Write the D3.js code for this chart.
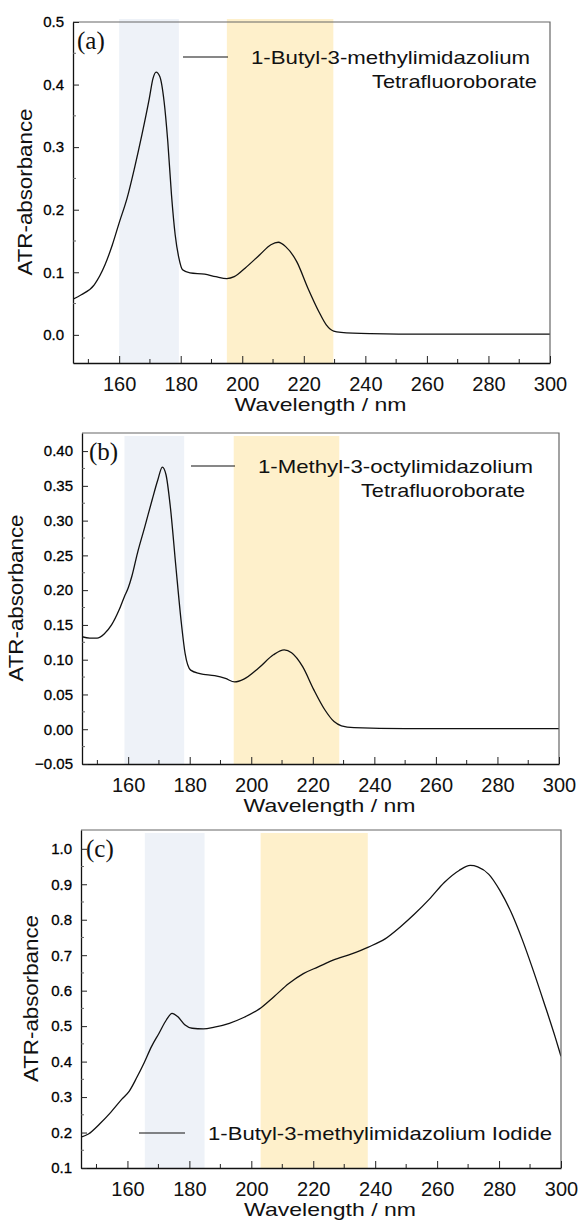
<!DOCTYPE html>
<html>
<head>
<meta charset="utf-8">
<script src="https://cdn.jsdelivr.net/npm/d3@7"></script>
<style>
  body { margin: 0; background: #fff; }
  svg { display: block; }
</style>
</head>
<body>
<svg id="chart" width="581" height="1220"></svg>
<script>
// values
const wlA  = [145, 147.7, 151.9, 155.4, 157.8, 160, 162.6, 165, 167.4, 169.8, 171, 172, 173.2, 174.6, 175.8, 177, 178.2, 179.4, 180.6, 183, 187.8, 191.4, 195, 197.4, 201, 205.7, 209.3, 211.7, 214.1, 217.7, 221.3, 224.9, 227.3, 229.7, 232.1, 241.7, 260, 280, 300];
const absA = [0.057, 0.064, 0.080, 0.112, 0.144, 0.179, 0.219, 0.267, 0.320, 0.378, 0.410, 0.420, 0.413, 0.373, 0.309, 0.224, 0.160, 0.123, 0.104, 0.099, 0.097, 0.093, 0.090, 0.093, 0.107, 0.128, 0.144, 0.148, 0.141, 0.117, 0.075, 0.037, 0.016, 0.006, 0.004, 0.002, 0.001, 0.001, 0.001];

const wlB  = [145, 147.5, 149.9, 152.2, 154.6, 157, 158.8, 160, 161.2, 163, 165.4, 167.8, 169.6, 171.1, 172.3, 173.7, 175.5, 177.3, 178.5, 180.3, 183.3, 188.1, 191.6, 194.6, 197.6, 202.4, 207.2, 210.7, 213.1, 216.7, 220.3, 223.9, 226.9, 229.3, 233.4, 250, 300];
const absB = [0.133, 0.131, 0.131, 0.137, 0.150, 0.171, 0.191, 0.203, 0.220, 0.253, 0.291, 0.330, 0.358, 0.377, 0.366, 0.320, 0.234, 0.152, 0.109, 0.085, 0.080, 0.077, 0.073, 0.068, 0.072, 0.088, 0.107, 0.114, 0.110, 0.090, 0.057, 0.028, 0.011, 0.005, 0.0024, 0.001, 0.001];

const wlC  = [145, 147.4, 151, 154.6, 158.2, 160.6, 163, 165.4, 167.8, 170.2, 172.6, 174.4, 176.2, 178.5, 180.9, 184.5, 188.1, 192.9, 197.7, 202.5, 207.3, 212.1, 216.8, 221.6, 226.4, 232.4, 237.8, 243.2, 248, 252.7, 257.5, 262.3, 267.1, 270.7, 273.1, 276.7, 280.3, 283.9, 287.4, 291, 294.6, 298.2, 300];
const absC = [0.187, 0.196, 0.224, 0.257, 0.294, 0.317, 0.355, 0.397, 0.443, 0.480, 0.518, 0.536, 0.527, 0.504, 0.494, 0.492, 0.497, 0.508, 0.525, 0.548, 0.583, 0.620, 0.648, 0.667, 0.686, 0.704, 0.723, 0.746, 0.779, 0.816, 0.858, 0.905, 0.939, 0.953, 0.949, 0.928, 0.882, 0.821, 0.746, 0.658, 0.564, 0.467, 0.415];

// axis ticks
const xTicks = [160, 180, 200, 220, 240, 260, 280, 300];
const xMinor = [150, 170, 190, 210, 230, 250, 270, 290];
const yTicksA = [0, 0.1, 0.2, 0.3, 0.4, 0.5];
const yMinorA = [0.05, 0.15, 0.25, 0.35, 0.45];
const yTicksB = [-0.05, 0, 0.05, 0.10, 0.15, 0.20, 0.25, 0.30, 0.35, 0.40];
const yMinorB = [-0.025, 0.025, 0.075, 0.125, 0.175, 0.225, 0.275, 0.325, 0.375];
const yTicksC = [0.1, 0.2, 0.3, 0.4, 0.5, 0.6, 0.7, 0.8, 0.9, 1.0];
const yMinorC = [0.15, 0.25, 0.35, 0.45, 0.55, 0.65, 0.75, 0.85, 0.95];

// shaded wavelength ranges (blue, orange)
const bandsA = [[160, 179.4], [195, 229.6]];
const bandsB = [[158.8, 178.2], [194.3, 228.6]];
const bandsC = [[165.6, 184.9], [203, 237.6]];

const legendA = ["1-Butyl-3-methylimidazolium", "Tetrafluoroborate"];
const legendB = ["1-Methyl-3-octylimidazolium", "Tetrafluoroborate"];
const legendC = ["1-Butyl-3-methylimidazolium Iodide"];

const xDomain = [145, 300];

// layout of the three panels
const panels = [
  { tag: "(a)", wl: wlA, ab: absA, yDom: [-0.045, 0.5], yTicks: yTicksA, yMinor: yMinorA, fmt: ".1f",
    bands: bandsA, legend: legendA,
    box: { l: 73, r: 550, t: 22, b: 363 }, bandDy: -3, yTitleX: 25, tagX: 77,
    leg: { x1: 183, x2: 228, y: 57, tx: 251, w1: 279, t2x: 537, w2: 165 } },
  { tag: "(b)", wl: wlB, ab: absB, yDom: [-0.05, 0.426], yTicks: yTicksB, yMinor: yMinorB, fmt: ".2f",
    bands: bandsB, legend: legendB,
    box: { l: 82, r: 559, t: 433, b: 764 }, bandDy: 3, yTitleX: 16, tagX: 89,
    leg: { x1: 191, x2: 235, y: 466, tx: 258, w1: 275, t2x: 525, w2: 164 } },
  { tag: "(c)", wl: wlC, ab: absC, yDom: [0.1, 1.053], yTicks: yTicksC, yMinor: yMinorC, fmt: ".1f",
    bands: bandsC, legend: legendC,
    box: { l: 81, r: 561, t: 830, b: 1168 }, bandDy: 3, yTitleX: 31, tagX: 86,
    leg: { x1: 139, x2: 185, y: 1133, tx: 208, w1: 344 } }
];

const bandColors = ["#eef2f8", "#fef0cb"];
const sans = "'Liberation Sans', Arial, sans-serif";

const svg = d3.select("#chart");

panels.forEach((p, i) => {
  const bx = p.box;
  const x = d3.scaleLinear().domain(xDomain).range([bx.l, bx.r]);
  const y = d3.scaleLinear().domain(p.yDom).range([bx.b, bx.t]);
  const g = svg.append("g");

  // shaded bands
  g.selectAll("rect.band")
    .data(p.bands)
    .enter().append("rect")
    .attr("class", "band")
    .attr("x", d => x(d[0]))
    .attr("width", d => x(d[1]) - x(d[0]))
    .attr("y", bx.t + p.bandDy)
    .attr("height", bx.b - bx.t - p.bandDy)
    .attr("fill", (d, j) => bandColors[j]);

  // spectrum
  const clipId = "clip" + i;
  svg.append("clipPath").attr("id", clipId)
    .append("rect").attr("x", bx.l).attr("y", bx.t)
    .attr("width", bx.r - bx.l).attr("height", bx.b - bx.t);

  const line = d3.line()
    .x(d => x(d[0]))
    .y(d => y(d[1]))
    .curve(d3.curveMonotoneX);

  g.append("path")
    .datum(d3.zip(p.wl, p.ab))
    .attr("clip-path", `url(#${clipId})`)
    .attr("fill", "none")
    .attr("stroke", "#111")
    .attr("stroke-width", 1.3)
    .attr("d", line);

  // top / right frame
  g.append("path")
    .attr("d", `M${bx.l},${bx.t}H${bx.r}V${bx.b}`)
    .attr("fill", "none").attr("stroke", "#666").attr("stroke-width", 1.2);

  // x axis, ticks pointing inward
  const xAxis = g.append("g")
    .attr("transform", `translate(0,${bx.b})`)
    .call(d3.axisBottom(x).tickValues(xTicks).tickSizeInner(-7).tickSizeOuter(0).tickPadding(14));
  xAxis.select(".domain").attr("stroke", "#111").attr("stroke-width", 1.3);
  xAxis.selectAll("text").attr("font-family", sans).attr("font-size", 20).attr("fill", "#111");
  xAxis.selectAll(".tick line").attr("stroke", "#222");
  g.selectAll("line.xminor")
    .data(xMinor)
    .enter().append("line")
    .attr("class", "xminor")
    .attr("x1", d => x(d)).attr("x2", d => x(d))
    .attr("y1", bx.b).attr("y2", bx.b - 4)
    .attr("stroke", "#222");

  // y axis
  const yAxis = g.append("g")
    .attr("transform", `translate(${bx.l},0)`)
    .call(d3.axisLeft(y).tickValues(p.yTicks).tickFormat(d3.format(p.fmt))
      .tickSizeInner(-6).tickSizeOuter(0).tickPadding(9));
  yAxis.select(".domain").attr("stroke", "#111").attr("stroke-width", 1.3);
  yAxis.selectAll("text").attr("font-family", sans).attr("font-size", 15).attr("fill", "#000")
    .attr("stroke", "#000").attr("stroke-width", 0.3);
  yAxis.selectAll(".tick line").attr("stroke", "#222");
  g.selectAll("line.yminor")
    .data(p.yMinor)
    .enter().append("line")
    .attr("class", "yminor")
    .attr("x1", bx.l).attr("x2", bx.l + 3)
    .attr("y1", d => y(d)).attr("y2", d => y(d))
    .attr("stroke", "#666");

  // axis titles
  g.append("text")
    .attr("x", (bx.l + bx.r) / 2 + 9 - 86)
    .attr("y", bx.b + 48)
    .attr("textLength", 172).attr("lengthAdjust", "spacingAndGlyphs")
    .attr("font-family", sans).attr("font-size", 19).attr("fill", "#111")
    .text("Wavelength / nm");

  g.append("text")
    .attr("transform", `translate(${p.yTitleX + 7},${(bx.t + bx.b) / 2 + 83}) rotate(-90)`)
    .attr("textLength", 167).attr("lengthAdjust", "spacingAndGlyphs")
    .attr("font-family", sans).attr("font-size", 20).attr("fill", "#111")
    .text("ATR-absorbance");

  // panel tag
  g.append("text")
    .attr("x", p.tagX).attr("y", bx.t + 27)
    .attr("font-family", "'Liberation Serif', 'DejaVu Serif', serif")
    .attr("font-size", 25).attr("fill", "#111")
    .text(p.tag);

  // legend
  const lg = p.leg;
  g.append("line")
    .attr("x1", lg.x1).attr("x2", lg.x2).attr("y1", lg.y).attr("y2", lg.y)
    .attr("stroke", "#111").attr("stroke-width", 1.2);
  g.append("text")
    .attr("x", lg.tx).attr("y", lg.y + 7)
    .attr("textLength", lg.w1).attr("lengthAdjust", "spacingAndGlyphs")
    .attr("font-family", sans).attr("font-size", 19).attr("fill", "#111")
    .text(p.legend[0]);
  if (p.legend.length > 1) {
    g.append("text")
      .attr("x", lg.t2x - lg.w2).attr("y", lg.y + 31)
      .attr("textLength", lg.w2).attr("lengthAdjust", "spacingAndGlyphs")
      .attr("font-family", sans).attr("font-size", 19).attr("fill", "#111")
      .text(p.legend[1]);
  }
});
</script>
</body>
</html>
